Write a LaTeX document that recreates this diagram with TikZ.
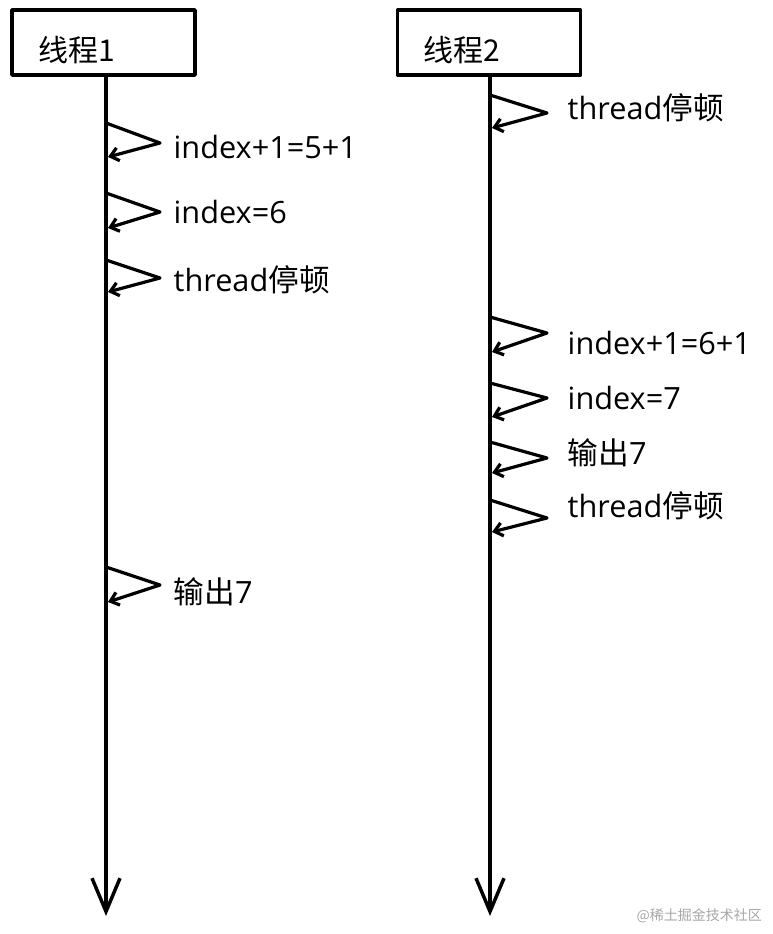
\documentclass[tikz,border=0pt]{standalone}
\usepackage{fontspec}
\setmainfont{Open Sans}
\newfontfamily\cjk{Noto Sans CJK SC}
\usetikzlibrary{arrows.meta}

\begin{document}
\begin{tikzpicture}[x=0.75pt, y=-0.75pt, line width=2.6pt, line join=round]
    \tikzset{
        box/.style={draw, line width=2.6pt, minimum height=48.75pt, text width=98.25pt, inner xsep=19.5pt, align=left, text height=32pt, text depth=3.5pt, font=\cjk\fontsize{22.5pt}{27pt}\selectfont},
        selfmsg/.style={-{Straight Barb[length=6pt, width=10pt]}, line width=2.4pt},
        lbl/.style={anchor=west, inner sep=0pt, font=\fontsize{23pt}{27pt}\selectfont}
    };
    \useasboundingbox (0,0) rectangle (772,934);
    \node[box] (t1) at (103.5,42.5) {线程1};
    \node[box] (t2) at (489,42.5) {线程2};
    \coordinate (e1) at (106,916);
    \coordinate (e2) at (490,916);
    \draw[-{Straight Barb[length=25pt, width=21pt]}] (t1.south -| e1) -- (e1);
    \draw[-{Straight Barb[length=25pt, width=21pt]}] (t2.south -| e2) -- (e2);
    % thread 1
    \foreach \a/\b/\c/\y/\t [count=\i] in {123/143/157/147/index+1=5+1, 193/212/228/212/index=6, 260/278/292/280/thread{\cjk 停顿}, 567/585/602/592/{\cjk 输出}7} {
        \coordinate (s1\i) at (106,\a);
        \coordinate (p1\i) at (160,\b);
        \coordinate (f1\i) at (108,\c);
        \draw[selfmsg] (s1\i) -- (p1\i) -- (f1\i);
        \node[lbl] (l1\i) at (172,\y) {\t};
    }
    % thread 2
    \foreach \a/\b/\c/\y/\t [count=\i] in {95/113/128/108/thread{\cjk 停顿}, 317/333/352/343/index+1=6+1, 383/398/417/398/index=7, 442/458/473/453/{\cjk 输出}7, 500/518/532/506/thread{\cjk 停顿}} {
        \coordinate (s2\i) at (490,\a);
        \coordinate (p2\i) at (547,\b);
        \coordinate (f2\i) at (492,\c);
        \draw[selfmsg] (s2\i) -- (p2\i) -- (f2\i);
        \node[lbl] (l2\i) at (566,\y) {\t};
    }
    \node[anchor=east, text=black!35, font=\cjk\fontsize{10.5pt}{12pt}\selectfont] (wm) at (768,916) {@稀土掘金技术社区};
\end{tikzpicture}
\end{document}
